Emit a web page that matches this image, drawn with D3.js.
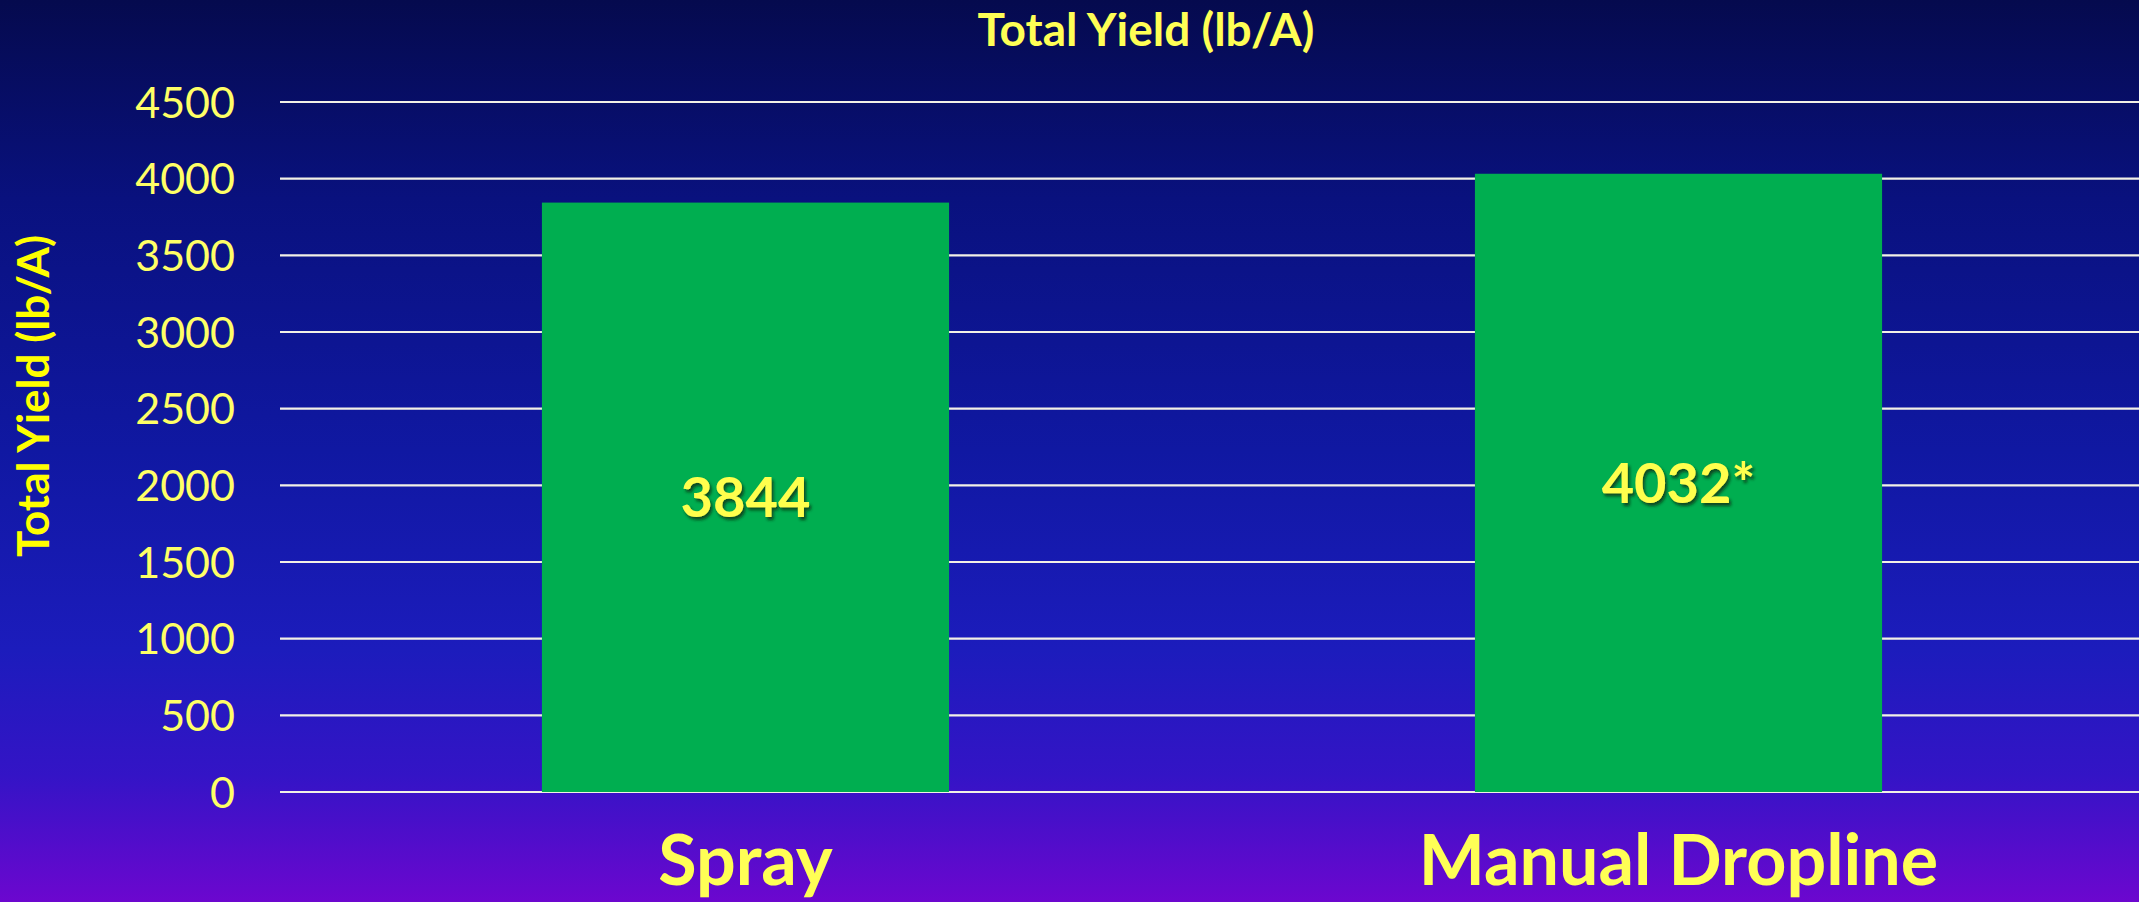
<!DOCTYPE html>
<html><head><meta charset="utf-8">
<script src="https://cdn.jsdelivr.net/npm/d3@7"></script>
<style>html,body{margin:0;padding:0;overflow:hidden;background:#0a1288;}</style>
</head><body>
<script>
const categories = ["Spray", "Manual Dropline"];
const yields = [3844, 4032];
const valueMarks = ["", "*"];
const yTicks = [0, 500, 1000, 1500, 2000, 2500, 3000, 3500, 4000, 4500];
const chartTitle = "Total Yield (lb/A)";
const yTitle = "Total Yield (lb/A)";

const W = 2139, H = 902;
const svg = d3.select("body").append("svg").attr("width", W).attr("height", H);
const defs = svg.append("defs");
const grad = defs.append("linearGradient").attr("id","bg").attr("x1",0).attr("y1",0).attr("x2",0).attr("y2",1);
[[0,"#050a4e"],[0.22,"#09117e"],[0.5,"#1018a2"],[0.72,"#1c1cbc"],[0.86,"#3414c6"],[1,"#6c07cf"]]
  .forEach(([o,c])=>grad.append("stop").attr("offset",o).attr("stop-color",c));
const sh = defs.append("filter").attr("id","sh").attr("x","-20%").attr("y","-20%").attr("width","140%").attr("height","140%");
sh.append("feDropShadow").attr("dx",2).attr("dy",3).attr("stdDeviation",1.5).attr("flood-color","#0a2a10").attr("flood-opacity",0.75);

svg.append("rect").attr("width",W).attr("height",H).attr("fill","url(#bg)");

const y = d3.scaleLinear().domain([0,4500]).range([792,102]);
const x = d3.scaleBand().domain(categories).range([279,2145]).paddingInner(0.5636).paddingOuter(0.2818);

// gridlines
svg.append("g").selectAll("line").data(yTicks).join("line")
  .attr("x1",280).attr("x2",W).attr("y1",d=>y(d)).attr("y2",d=>y(d))
  .attr("stroke","#f2f0e6").attr("stroke-width",2.2);

// y axis labels
const yAxis = d3.axisLeft(y).tickValues(yTicks).tickSize(0).tickPadding(0).tickFormat(d3.format("d"));
const ga = svg.append("g").attr("transform","translate(235,0)").call(yAxis);
ga.select(".domain").remove();
ga.selectAll("text").attr("fill","#ffff66").attr("font-family","Lato, 'Open Sans', sans-serif")
  .attr("font-size",43).attr("dy","0.35em");

// bars
svg.append("g").selectAll("rect").data(categories).join("rect")
  .attr("x",d=>x(d)).attr("width",x.bandwidth())
  .attr("y",(d,i)=>y(yields[i])).attr("height",(d,i)=>y(0)-y(yields[i]))
  .attr("fill","#00ae50");

// value labels
svg.append("g").selectAll("text").data(categories).join("text")
  .attr("x",d=>x(d)+x.bandwidth()/2)
  .attr("y",(d,i)=>(y(yields[i])+y(0))/2)
  .attr("dy","0.36em").attr("text-anchor","middle")
  .attr("font-family","Lato, sans-serif").attr("font-weight","bold").attr("font-size",56)
  .attr("fill","#ffff4d").attr("filter","url(#sh)")
  .text((d,i)=>yields[i] + valueMarks[i]);

// category labels
svg.append("g").selectAll("text").data(categories).join("text")
  .attr("x",d=>x(d)+x.bandwidth()/2).attr("y",885)
  .attr("text-anchor","middle")
  .attr("font-family","Lato, sans-serif").attr("font-weight","bold").attr("font-size",70)
  .attr("fill","#ffff55").text(d=>d);

// chart title
svg.append("text").attr("x",1146).attr("y",46).attr("text-anchor","middle")
  .attr("font-family","Lato, sans-serif").attr("font-weight","bold").attr("font-size",46)
  .attr("fill","#ffff55").text(chartTitle);

// y title
svg.append("text").attr("transform","translate(49,396) rotate(-90)").attr("text-anchor","middle")
  .attr("font-family","Lato, sans-serif").attr("font-weight","bold").attr("font-size",44)
  .attr("fill","#ffff00").text(yTitle);
</script>
</body></html>
